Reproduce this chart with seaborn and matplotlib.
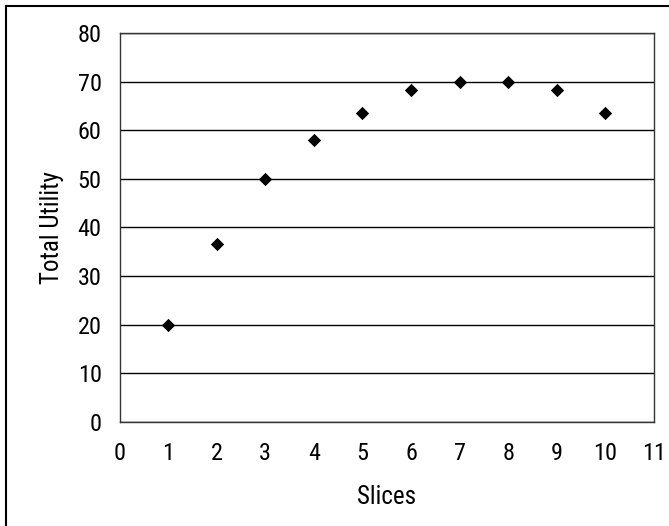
import matplotlib
matplotlib.use("Agg")
import matplotlib.pyplot as plt
from matplotlib import font_manager as fm
import seaborn as sns
import pandas as pd
from matplotlib.patches import Rectangle

slices = [1, 2, 3, 4, 5, 6, 7, 8, 9, 10]
total_utility = [20, 36.6, 50, 58, 63.6, 68.3, 70, 70, 68.3, 63.6]
x_ticks = list(range(0, 12))
y_ticks = list(range(0, 90, 10))

sns.set_theme(style="white")

# pick a condensed/narrow font if one is installed
names = sorted({f.name for f in fm.fontManager.ttflist})
cond = [n for n in names if ("Narrow" in n or "Condensed" in n)]
pref = ["Liberation Sans Narrow", "Roboto Condensed", "DejaVu Sans Condensed",
        "Open Sans Condensed", "Noto Sans Condensed"]
chosen = [n for n in pref if n in names] + [n for n in cond if n not in pref]
plt.rcParams['font.family'] = (chosen[:1] if chosen else ["Roboto"]) + ['DejaVu Sans']
plt.rcParams['font.stretch'] = 'condensed'

df = pd.DataFrame({"Slices": slices, "Total Utility": total_utility})

fig = plt.figure(figsize=(6.69, 5.26), dpi=100)
ax = fig.add_axes([119.5/669, 1-421.7/526, (654-119.5)/669, (421.7-33)/526])

sns.scatterplot(data=df, x="Slices", y="Total Utility", marker="D", s=46,
                color="black", edgecolor="black", linewidth=0, ax=ax, zorder=3)

ax.set_xlim(0, 11)
ax.set_ylim(0, 80)
ax.set_xticks(x_ticks)
ax.set_yticks(y_ticks)
ax.yaxis.grid(True, color="black", linewidth=1.0)
ax.xaxis.grid(False)
for s in ax.spines.values():
    s.set_color("#333333")
    s.set_linewidth(1.0)
ax.tick_params(axis="both", direction="out", length=4.8, width=1, color="#333333",
               labelsize=17.5, labelcolor="black")
ax.tick_params(axis="x", pad=10)
ax.tick_params(axis="y", pad=8)
ax.set_xlabel("Slices", fontsize=18, color="black", labelpad=14)
ax.set_ylabel("Total Utility", fontsize=18, color="black", labelpad=10)

fig.patches.append(Rectangle((6/669, -0.1), 1.2, 1.1 - 6/526, transform=fig.transFigure,
                             fill=False, edgecolor="black", linewidth=1.5))

fig.savefig("out.png", dpi=100)
